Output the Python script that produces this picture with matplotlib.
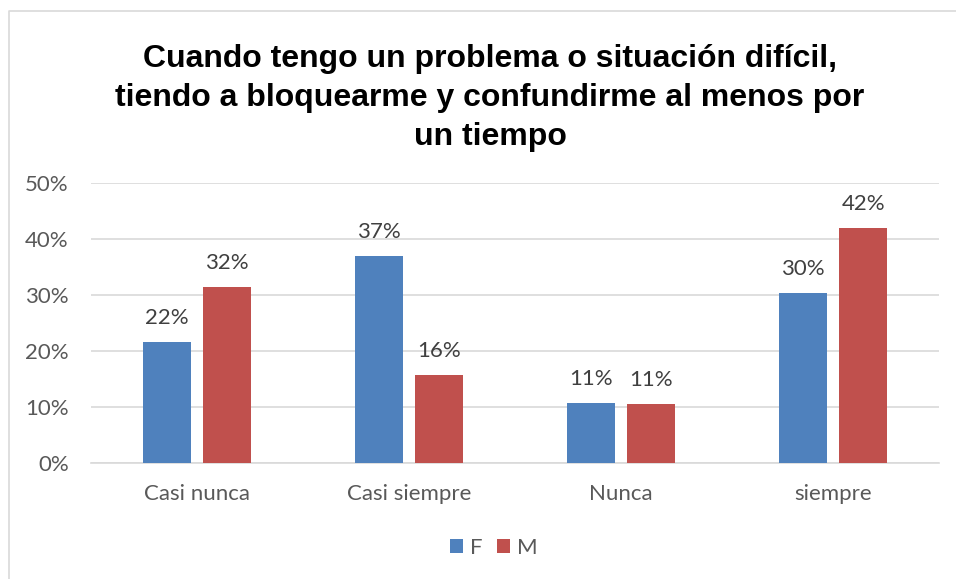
import matplotlib
matplotlib.use("Agg")
import matplotlib.pyplot as plt
import numpy as np
from matplotlib.lines import Line2D

categories = ["Casi nunca", "Casi siempre", "Nunca", "siempre"]
series_names = ["F", "M"]
f_values = [0.217, 0.370, 0.108, 0.304]
m_values = [0.315, 0.157, 0.106, 0.421]
y_ticks = [0.0, 0.1, 0.2, 0.3, 0.4, 0.5]
title = "Cuando tengo un problema o situación difícil,\ntiendo a bloquearme y confundirme al menos por\nun tiempo"

W, H = 956, 579
fig = plt.figure(figsize=(W / 100, H / 100), dpi=100)
fig.patch.set_facecolor("white")

# chart border (light gray)
fig.add_artist(Line2D([9 / W, 9 / W, 1.0], [0.0, 1 - 11 / H, 1 - 11 / H],
                      transform=fig.transFigure, color="#D9D9D9", lw=1.2))

ax = fig.add_axes([91 / W, 1 - 463.3 / H, (939 - 91) / W, (463.3 - 183.3) / H])
x = np.arange(len(categories))
bw = 0.2245
gap = 0.06
off = (bw + gap) / 2
colors = ["#4F81BD", "#C0504D"]
b1 = ax.bar(x - off, f_values, bw, color=colors[0], label=series_names[0], zorder=3)
b2 = ax.bar(x + off, m_values, bw, color=colors[1], label=series_names[1], zorder=3)

fs = 16
lab_font = dict(family="Lato", size=fs, color="#404040")
for bars, vals in ((b1, f_values), (b2, m_values)):
    for r, v in zip(bars, vals):
        ax.annotate(f"{round(v * 100):.0f}%", (r.get_x() + r.get_width() / 2, v),
                    xytext=(0, 10), textcoords="offset points", ha="center", va="bottom",
                    **lab_font)

ax.set_xlim(-0.5, len(categories) - 0.5)
ax.set_ylim(0, 0.5)
ax.set_yticks(y_ticks)
ax.set_yticklabels([f"{int(round(t * 100))}%" for t in y_ticks], family="Lato", size=fs, color="#595959")
ax.set_xticks(x)
ax.set_xticklabels(categories, family="Lato", size=fs, color="#595959")
ax.tick_params(axis="y", length=0, pad=16)
ax.tick_params(axis="x", length=0, pad=15)
ax.grid(axis="y", color="#D9D9D9", lw=1.2, zorder=0)
for s in ax.spines.values():
    s.set_visible(False)
ax.spines["bottom"].set_visible(True)
ax.spines["bottom"].set_color("#D9D9D9")
ax.spines["bottom"].set_linewidth(1.2)

fig.text(490 / W, 1 - 44 / H, title, ha="center", va="top", family="Liberation Sans",
         weight="bold", size=23, linespacing=1.39, color="black")

leg = fig.legend(handles=[b1, b2], labels=series_names, loc="center", bbox_to_anchor=(494 / W, 1 - 548 / H),
                 ncol=2, frameon=False, handlelength=0.59, handleheight=0.55, handletextpad=0.32,
                 columnspacing=0.63, prop=dict(family="Lato", size=fs))
for t in leg.get_texts():
    t.set_color("#595959")

fig.savefig("out.png", dpi=100, facecolor="white")
